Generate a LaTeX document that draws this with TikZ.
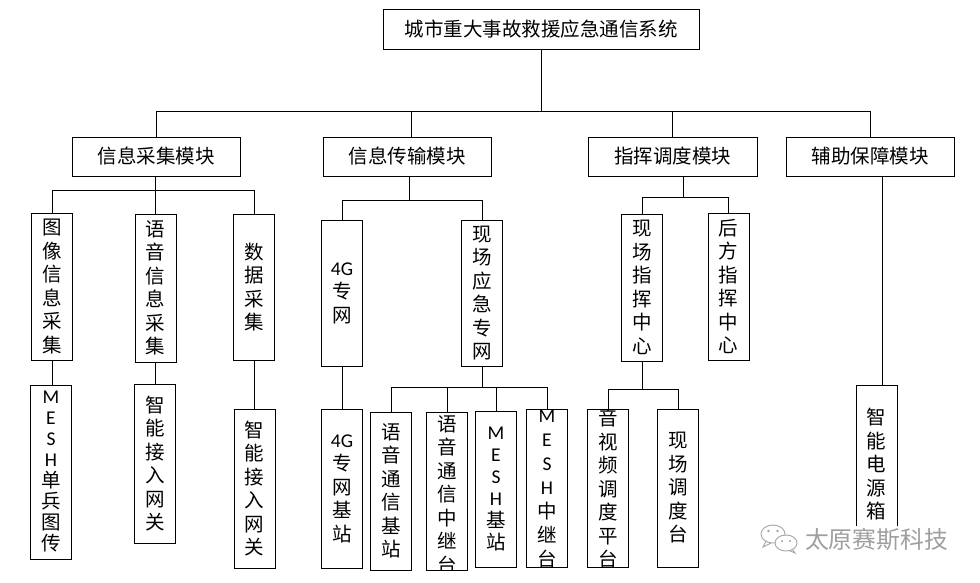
\documentclass[tikz,border=0pt]{standalone}
\usepackage{fontspec}
\newfontfamily\cjk{Noto Sans CJK SC}
\newfontfamily\lat{Carlito}
\begin{document}
\begin{tikzpicture}[x=1pt,y=-1pt,
  bx/.style={draw=black, line width=1pt, inner sep=0pt, outer sep=0pt, rectangle},
  ht/.style={font=\cjk\fontsize{19.5}{23}\selectfont},
  vt/.style={font=\cjk\fontsize{19.5}{23.5}\selectfont, align=center, inner sep=0pt},
  vb/.style={bx, vt, minimum width=41pt},
  ln/.style={draw=black, line width=1pt}]
\useasboundingbox (0,0) rectangle (980,582);
\fill[white] (0,0) rectangle (980,582);

% root and modules
\node[bx, ht, minimum width=316pt, minimum height=40pt] (T) at (541,29) {城市重大事故救援应急通信系统};
\node[bx, ht, minimum width=168pt, minimum height=39pt] (M1) at (156,156.5) {信息采集模块};
\node[bx, ht, minimum width=168pt, minimum height=39pt] (M2) at (407,156.5) {信息传输模块};
\node[bx, ht, minimum width=169pt, minimum height=39pt] (M3) at (672.5,156.5) {指挥调度模块};
\node[bx, ht, minimum width=168pt, minimum height=39pt] (M4) at (870,156.5) {辅助保障模块};

% information collection
\node[vb, minimum height=147pt] (A1) at (52,286.5) {图\\像\\信\\息\\采\\集};
\node[vb, minimum height=148pt] (A2) at (155.5,288) {语\\音\\信\\息\\采\\集};
\node[vb, minimum height=146pt] (A3) at (254,287) {数\\据\\采\\集};
\node[vb, minimum height=174pt, font=\cjk\fontsize{19.5}{21}\selectfont] (B1) at (51,472) {{\lat M}\\{\lat E}\\{\lat S}\\{\lat H}\\单\\兵\\图\\传};
\node[vb, minimum height=159pt] (B2) at (155,463.5) {智\\能\\接\\入\\网\\关};
\node[vb, minimum height=159pt] (B3) at (254.5,488.5) {智\\能\\接\\入\\网\\关};

% information transmission
\node[vb, minimum height=146pt] (C1) at (342,293) {{\lat 4G}\\专\\网};
\node[vb, minimum height=146pt] (C2) at (482,293) {现\\场\\应\\急\\专\\网};
\node[vb, minimum height=159pt] (D1) at (342,488.5) {{\lat 4G}\\专\\网\\基\\站};
\node[vb, minimum height=158pt] (D2) at (391,491) {语\\音\\通\\信\\基\\站};
\node[vb, minimum height=158pt] (D3) at (447,491) {};
\node[vb, minimum height=156pt, font=\cjk\fontsize{19.5}{22}\selectfont] (D4) at (496,489) {{\lat M}\\{\lat E}\\{\lat S}\\{\lat H}\\基\\站};
\node[vb, minimum height=158pt] (D5) at (547,488) {};
\begin{scope}
  \clip (D3.south west) rectangle (D3.north east);
  \node[vt, anchor=north] (D3t) at ([yshift=-3pt]D3.north) {语\\音\\通\\信\\中\\继\\台};
\end{scope}
\begin{scope}
  \clip (D5.south west) rectangle ([yshift=3pt]D5.north east);
  \node[vt, anchor=north, font=\cjk\fontsize{19.5}{24}\selectfont] (D5t) at ([yshift=-1pt]D5.north) {{\lat M}\\{\lat E}\\{\lat S}\\{\lat H}\\中\\继\\台};
\end{scope}

% command and dispatch
\node[vb, minimum height=147pt] (E1) at (642,287.5) {现\\场\\指\\挥\\中\\心};
\node[vb, minimum height=147pt] (E2) at (728.5,286.5) {后\\方\\指\\挥\\中\\心};
\node[vb, minimum height=158pt] (F1) at (608,488) {};
\node[vb, minimum height=158pt] (F2) at (678,488) {现\\场\\调\\度\\台};
\begin{scope}
  \clip (F1.south west) rectangle (F1.north east);
  \node[vt, anchor=north] (F1t) at ([yshift=0pt]F1.north) {音\\视\\频\\调\\度\\平\\台};
\end{scope}

% support
\node[vb, minimum height=159pt] (G1) at (876.5,464.5) {智\\能\\电\\源\\箱};

% connectors: root to modules
\coordinate (bus) at (541,111);
\coordinate (m2x) at (411,0);
\draw[ln] (T.south) -- (bus);
\draw[ln] (M1.north) -- (M1.north |- bus) -- (M4.north |- bus) -- (M4.north);
\draw[ln] (m2x |- bus) -- (m2x |- M2.north);
\draw[ln] (M3.north) -- (M3.north |- bus);

% M1 subtree
\coordinate (b1) at (155,190);
\draw[ln] (b1 |- M1.south) -- (b1);
\draw[ln] (A1.north) -- (A1.north |- b1) -- (A3.north |- b1) -- (A3.north);
\draw[ln] (A2.north) -- (A2.north |- b1);
\draw[ln] (A1.south) -- (A1.south |- B1.north);
\draw[ln] (A2.south) -- (A2.south |- B2.north);
\draw[ln] (A3.south) -- (A3.south |- B3.north);

% M2 subtree
\coordinate (b2) at (409,200);
\draw[ln] (b2 |- M2.south) -- (b2);
\draw[ln] (C1.north) -- (C1.north |- b2) -- (C2.north |- b2) -- (C2.north);
\draw[ln] (C1.south) -- (C1.south |- D1.north);
\coordinate (b3) at (482,387);
\draw[ln] (C2.south) -- (b3);
\draw[ln] (D2.north) -- (D2.north |- b3) -- (D5.north |- b3) -- (D5.north);
\draw[ln] (D3.north) -- (D3.north |- b3);
\draw[ln] (D4.north) -- (D4.north |- b3);

% M3 subtree
\coordinate (b4) at (683,197);
\draw[ln] (b4 |- M3.south) -- (b4);
\draw[ln] (E1.north) -- (E1.north |- b4) -- (E2.north |- b4) -- (E2.north);
\coordinate (b5) at (642,389);
\draw[ln] (E1.south) -- (b5);
\draw[ln] (F1.north) -- (F1.north |- b5) -- (F2.north |- b5) -- (F2.north);

% M4 subtree
\coordinate (g) at (882,0);
\draw[ln] (g |- M4.south) -- (g |- G1.north);

% watermark
\fill[white] (752,526) rectangle (952,557);
\draw[gray!70, line width=0.9pt] (773,534) ellipse [x radius=12pt, y radius=9pt];
\draw[gray!70, line width=0.9pt] (766,541) -- (763,547) -- (771,543);
\filldraw[fill=white, draw=gray!70, line width=0.9pt] (786,543) ellipse [x radius=11pt, y radius=8pt];
\draw[gray!70, line width=0.9pt] (792,549) -- (795,553) -- (789,550.5);
\fill[gray!70] (768.5,531) circle (1.3pt) (777.5,531) circle (1.3pt)
               (782,541) circle (1.2pt) (790,541) circle (1.2pt);
\node[font=\cjk\fontsize{23.8}{24}\selectfont, text=gray!75, inner sep=0pt] (wm) at (876.5,540) {太原赛斯科技};
\end{tikzpicture}
\end{document}
